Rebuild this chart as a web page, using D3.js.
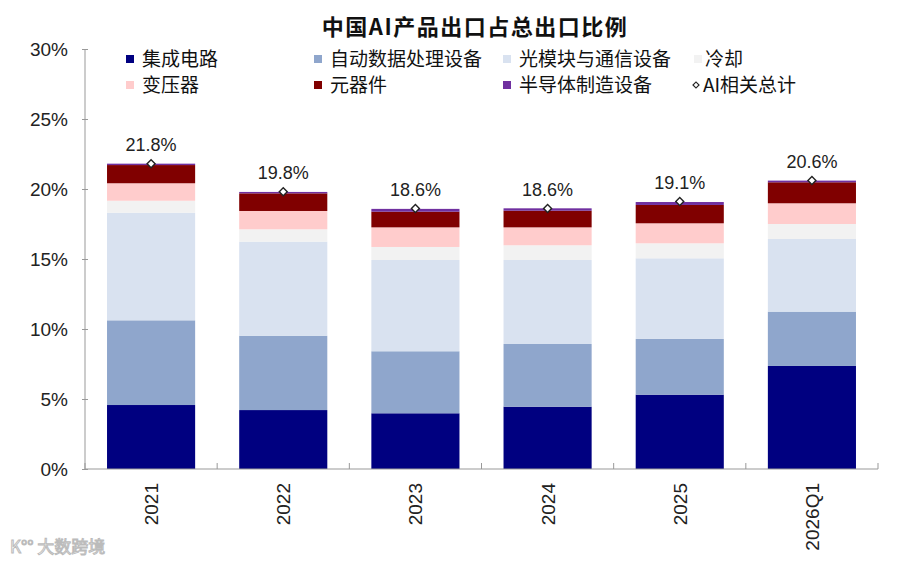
<!DOCTYPE html>
<html>
<head>
<meta charset="utf-8">
<script src="https://cdn.jsdelivr.net/npm/d3@7"></script>
<style>
  body { margin: 0; background: #fff; }
  svg { display: block; font-family: "Liberation Sans", Arial, "Noto Sans CJK SC", sans-serif; }
  .axis text { font-size: 19px; fill: #222; }
  .axis path, .axis line { stroke: #999; }
</style>
</head>
<body>
<svg width="900" height="564"></svg>
<script>
// categories and series (percent of total exports)
const years = ["2021", "2022", "2023", "2024", "2025", "2026Q1"];
const seriesNames = ["集成电路", "自动数据处理设备", "光模块与通信设备", "冷却", "变压器", "元器件", "半导体制造设备"];
const ic          = [4.57, 4.21, 3.98, 4.45, 5.31, 7.36];
const adp         = [6.05, 5.31, 4.43, 4.48, 3.98, 3.88];
const optical     = [7.69, 6.72, 6.52, 6.00, 5.76, 5.19];
const cooling     = [0.85, 0.88, 0.93, 1.05, 1.07, 1.07];
const transformer = [1.25, 1.31, 1.40, 1.28, 1.43, 1.48];
const components  = [1.30, 1.26, 1.12, 1.19, 1.31, 1.50];
const semi        = [0.10, 0.10, 0.20, 0.17, 0.21, 0.12];
const totals      = [21.8, 19.8, 18.6, 18.6, 19.1, 20.6];
const yTicks      = [0, 5, 10, 15, 20, 25, 30];

const colors = ["#000080", "#8fa6cc", "#d9e2f0", "#f2f2f2", "#ffcccc", "#800000", "#7030a0"];

const svg    = d3.select("svg"),
      margin = {top: 49, left: 85, right: 22, bottom: 95},
      width  = 900 - margin.left - margin.right,
      height = 564 - margin.top - margin.bottom;

const seriesValues = [ic, adp, optical, cooling, transformer, components, semi];
const table = years.map((yr, i) => {
  const row = {year: yr};
  seriesNames.forEach((s, k) => row[s] = seriesValues[k][i]);
  return row;
});

const x = d3.scaleBand().domain(years).range([0, width]).paddingInner(1 / 3).paddingOuter(1 / 6);
const y = d3.scaleLinear().domain([0, 30]).range([height, 0]);
const g = svg.append("g").attr("transform", `translate(${margin.left},${margin.top})`);

// title
svg.append("text")
  .attr("x", 475).attr("y", 35)
  .attr("text-anchor", "middle")
  .style("font-size", "22px").style("font-weight", "bold").style("fill", "#111")
  .style("letter-spacing", "1.5px")
  .style("font-family", "'Noto Sans CJK SC', sans-serif")
  .text("中国AI产品出口占总出口比例");

// stacked bars
const stacked = d3.stack().keys(seriesNames)(table);
g.selectAll(".layer")
  .data(stacked)
  .enter().append("g")
    .attr("class", "layer")
    .attr("fill", (d, i) => colors[i])
  .selectAll("rect")
  .data(d => d)
  .enter().append("rect")
    .attr("x", d => x(d.data.year))
    .attr("y", d => y(d[1]))
    .attr("width", x.bandwidth())
    .attr("height", d => y(d[0]) - y(d[1]));

// y axis
const yAxis = g.append("g")
  .attr("class", "axis")
  .call(d3.axisLeft(y).tickValues(yTicks).tickFormat(d => d + "%").tickSize(3).tickPadding(14));
yAxis.selectAll(".tick line").attr("x1", -3).attr("x2", 3);
yAxis.select(".domain").attr("d", `M0,${height}V0`);

// x axis: ticks between categories, pointing up
const step = x.step();
const boundaries = d3.range(years.length + 1).map(i => i * step);
const xAxis = g.append("g").attr("class", "axis").attr("transform", `translate(0,${height})`);
xAxis.append("line").attr("x1", 0).attr("x2", width).attr("stroke", "#999");
xAxis.selectAll(".bt").data(boundaries).enter().append("line")
  .attr("x1", d => d).attr("x2", d => d).attr("y1", 0).attr("y2", -6).attr("stroke", "#999");
xAxis.selectAll(".lbl").data(years).enter().append("text")
  .attr("transform", d => `translate(${x(d) + x.bandwidth() / 2 + 7},14) rotate(-90)`)
  .attr("text-anchor", "end")
  .text(d => d);

// totals markers and labels
const diamond = d3.symbol(d3.symbolSquare, 32);
g.selectAll(".tot").data(totals).enter().append("path")
  .attr("d", diamond)
  .attr("transform", (d, i) => `translate(${x(years[i]) + x.bandwidth() / 2},${y(d)}) rotate(45)`)
  .attr("fill", "#fff").attr("stroke", "#222").attr("stroke-width", 1.4);
g.selectAll(".totlbl").data(totals).enter().append("text")
  .attr("x", (d, i) => x(years[i]) + x.bandwidth() / 2)
  .attr("y", d => y(d) - 13)
  .attr("text-anchor", "middle")
  .style("font-size", "18px").style("fill", "#222")
  .text(d => d.toFixed(1) + "%");

// legend
const legendItems = [
  {name: seriesNames[0], color: colors[0], col: 0, row: 0},
  {name: seriesNames[1], color: colors[1], col: 1, row: 0},
  {name: seriesNames[2], color: colors[2], col: 2, row: 0},
  {name: seriesNames[3], color: colors[3], col: 3, row: 0},
  {name: seriesNames[4], color: colors[4], col: 0, row: 1},
  {name: seriesNames[5], color: colors[5], col: 1, row: 1},
  {name: seriesNames[6], color: colors[6], col: 2, row: 1},
  {name: "AI相关总计", color: null, col: 3, row: 1}
];
const colX = [126, 314, 503, 694];
const rowY = [59, 85];
const leg = svg.append("g").style("font-family", "'Noto Sans CJK SC', sans-serif");
legendItems.forEach(it => {
  const mx = colX[it.col], my = rowY[it.row];
  if (it.color) {
    leg.append("rect").attr("x", mx).attr("y", my - 4).attr("width", 8).attr("height", 8).attr("fill", it.color);
  } else {
    leg.append("path").attr("d", d3.symbol(d3.symbolSquare, 18))
      .attr("transform", `translate(${mx + 2},${my}) rotate(45)`)
      .attr("fill", "#fff").attr("stroke", "#222").attr("stroke-width", 1.2);
  }
  leg.append("text")
    .attr("x", mx + (it.col === 3 ? (it.color ? 11 : 9) : 16))
    .attr("y", my + 7)
    .style("font-size", "19px").style("fill", "#111")
    .text(it.name);
});

// watermark
svg.append("text")
  .attr("x", 10).attr("y", 553)
  .style("font-size", "17px").style("font-family", "'Noto Sans CJK SC', sans-serif")
  .style("fill", "#fff").style("stroke", "#bbb").style("stroke-width", 1)
  .text("K°° 大数跨境");
</script>
</body>
</html>
